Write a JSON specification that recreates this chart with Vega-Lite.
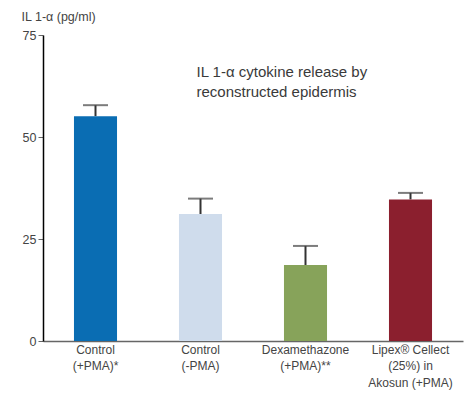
{
  "$schema": "https://vega.github.io/schema/vega-lite/v6.json",
  "width": 420,
  "height": 306,
  "autosize": "none",
  "padding": {"left": 43, "top": 35, "right": 9, "bottom": 52},
  "background": "white",
  "config": {
    "view": {"stroke": null},
    "font": "Liberation Sans"
  },
  "layer": [
    {
      "data": {"name": "bars"},
      "mark": {"type": "rule", "color": "#333333", "strokeWidth": 2},
      "encoding": {
        "x": {"field": "group", "type": "nominal", "sort": null},
        "y": {"field": "value", "type": "quantitative"},
        "y2": {"field": "err"}
      }
    },
    {
      "data": {"name": "bars"},
      "mark": {"type": "tick", "color": "#444444", "thickness": 2, "size": 25, "orient": "horizontal"},
      "encoding": {
        "x": {"field": "group", "type": "nominal", "sort": null},
        "y": {"field": "err", "type": "quantitative"}
      }
    },
    {
      "data": {"name": "bars"},
      "mark": {"type": "bar"},
      "encoding": {
        "x": {
          "field": "group", "type": "nominal", "sort": null,
          "scale": {"paddingInner": 0.59, "paddingOuter": 0.295},
          "axis": {
            "title": null,
            "labelAngle": 0,
            "labelAlign": "center",
            "labelExpr": "split(datum.label, '|')",
            "labelFont": "Liberation Sans",
            "labelFontSize": 12,
            "labelColor": "#444444",
            "labelLineHeight": 16.5,
            "labelPadding": 8,
            "ticks": false,
            "domainColor": "#666666",
            "domainWidth": 1.5
          }
        },
        "y": {
          "field": "value", "type": "quantitative",
          "scale": {"domain": [0, 75], "nice": false},
          "axis": {
            "values": [0, 25, 50, 75],
            "grid": false,
            "title": "IL 1-α (pg/ml)",
            "titleAngle": 0,
            "titleX": -22,
            "titleY": -15,
            "titleAlign": "left",
            "titleBaseline": "alphabetic",
            "titleFont": "Liberation Sans",
            "titleFontSize": 12.5,
            "titleFontWeight": "normal",
            "titleColor": "#444444",
            "labelFont": "Liberation Sans",
            "labelFontSize": 12.5,
            "labelColor": "#444444",
            "labelPadding": 2,
            "tickSize": 5,
            "tickColor": "#666666",
            "domainColor": "#000000",
            "domainWidth": 1.5
          }
        },
        "color": {"field": "color", "type": "nominal", "scale": null},
        "zindex": {"value": 1}
      }
    },
    {
      "data": {"name": "note"},
      "mark": {"type": "text", "align": "left", "baseline": "alphabetic", "fontSize": 15, "fontWeight": "normal", "lineHeight": 20, "fill": "#3a3a3a", "font": "Liberation Sans", "dx": -4},
      "encoding": {
        "x": {"field": "group", "type": "nominal", "sort": null},
        "y": {"field": "y", "type": "quantitative"},
        "text": {"field": "lines"}
      }
    }
  ],
  "datasets": {
    "bars": [
      {"group": "Control|(+PMA)*", "value": 55.1, "err": 57.8, "color": "#0a6db3"},
      {"group": "Control|(-PMA)", "value": 31.1, "err": 34.9, "color": "#cfdcec"},
      {"group": "Dexamethazone|(+PMA)**", "value": 18.6, "err": 23.3, "color": "#87a35a"},
      {"group": "Lipex® Cellect|(25%) in|Akosun (+PMA)", "value": 34.7, "err": 36.3, "color": "#8b1f2e"}
    ],
    "note": [
      {"group": "Control|(-PMA)", "y": 64.7, "lines": ["IL 1-α cytokine release by", "reconstructed epidermis"]}
    ]
  }
}
